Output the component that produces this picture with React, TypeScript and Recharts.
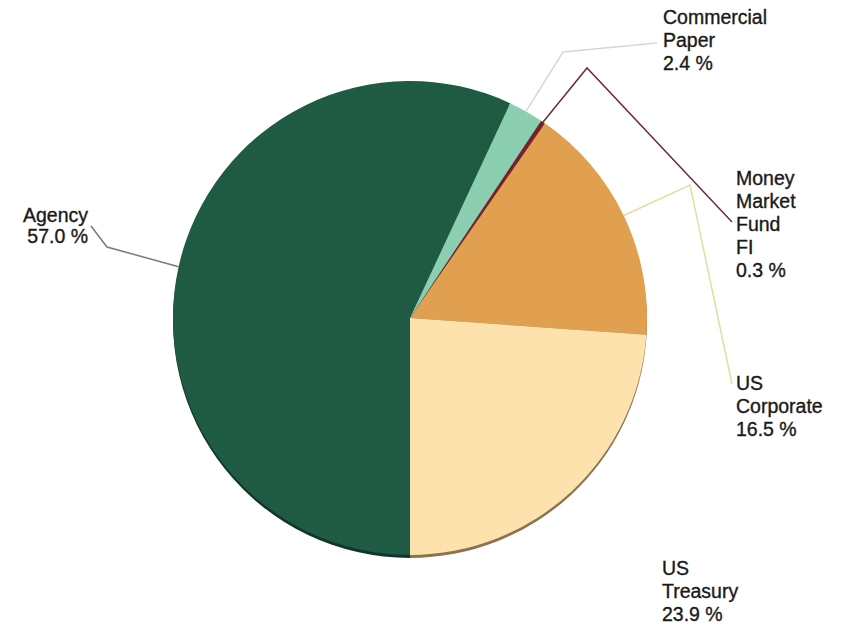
import { Cell, Pie, PieChart } from 'recharts';

const SECTORS = ['Agency', 'Commercial Paper', 'Money Market Fund FI', 'US Corporate', 'US Treasury'];
const SHARES = [57.0, 2.4, 0.3, 16.5, 23.9];
const LABEL_LINES = [
  ['Agency'],
  ['Commercial', 'Paper'],
  ['Money', 'Market', 'Fund', 'FI'],
  ['US', 'Corporate'],
  ['US', 'Treasury'],
];

const COLORS = ['#1f5a43', '#8ccfb0', '#7a1f2e', '#e0a04f', '#fde2ae'];
const SHADOW_COLORS = ['#10352a', '#4f8a70', '#4a1019', '#8a6434', '#8a7350'];
const LEADER_COLORS = ['#7a7a7a', '#cfdcd2', '#6e2c3e', '#e6dca0', 'none'];

// label placement relative to pie centre: elbow, end of leader, text anchor
const LABEL_LAYOUT = [
  { elbow: [-303, -71], end: [-319, -92], text: [-322, -96], anchor: 'end', lh: 21 },
  { elbow: [153, -266], end: [247, -275], text: [253, -294], anchor: 'start', lh: 23 },
  { elbow: [177, -250], end: [322, -96], text: [326, -133], anchor: 'start', lh: 23 },
  { elbow: [280, -133], end: [322, 66], text: [326, 72], anchor: 'start', lh: 23 },
  { elbow: null, end: null, text: [252, 257], anchor: 'start', lh: 23 },
];

const data = SECTORS.map((name, i) => ({ name, value: SHARES[i] }));

const RAD = Math.PI / 180;
const FONT = '"Liberation Sans", Arial, sans-serif';

function renderLabel(props: any) {
  const { cx, cy, midAngle, outerRadius, index, value } = props;
  const layout = LABEL_LAYOUT[index];
  const sx = cx + outerRadius * Math.cos(-midAngle * RAD);
  const sy = cy + outerRadius * Math.sin(-midAngle * RAD);
  const lines = [...LABEL_LINES[index], `${Number(value).toFixed(1)} %`];
  return (
    <g key={`lbl-${index}`}>
      {layout.elbow && layout.end && (
        <polyline
          points={`${sx},${sy} ${cx + layout.elbow[0]},${cy + layout.elbow[1]} ${cx + layout.end[0]},${cy + layout.end[1]}`}
          fill="none"
          stroke={LEADER_COLORS[index]}
          strokeWidth={1.5}
        />
      )}
      <text
        x={cx + layout.text[0]}
        y={cy + layout.text[1]}
        textAnchor={layout.anchor as any}
        fill="#1a1a1a"
        stroke="#1a1a1a"
        strokeWidth={0.35}
        fontSize={19.5}
        fontFamily={FONT}
      >
        {lines.map((l, k) => (
          <tspan key={k} x={cx + layout.text[0]} dy={k === 0 ? 0 : layout.lh}>
            {l}
          </tspan>
        ))}
      </text>
    </g>
  );
}

export default function App() {
  return (
    <div style={{ position: 'absolute', left: 0, top: 0, background: '#fff' }}>
      <PieChart width={842} height={626} margin={{ top: 0, right: 0, bottom: 0, left: 0 }}>
        <Pie
          data={data}
          dataKey="value"
          cx={410}
          cy={321}
          outerRadius={237}
          startAngle={-90}
          endAngle={-450}
          stroke="none"
          isAnimationActive={false}
          label={false}
          labelLine={false}
        >
          {data.map((d, i) => (
            <Cell key={d.name} fill={SHADOW_COLORS[i]} />
          ))}
        </Pie>
        <Pie
          data={data}
          dataKey="value"
          cx={410}
          cy={318}
          outerRadius={237}
          startAngle={-90}
          endAngle={-450}
          stroke="none"
          isAnimationActive={false}
          label={renderLabel}
          labelLine={false}
        >
          {data.map((d, i) => (
            <Cell key={d.name} fill={COLORS[i]} />
          ))}
        </Pie>
      </PieChart>
    </div>
  );
}
